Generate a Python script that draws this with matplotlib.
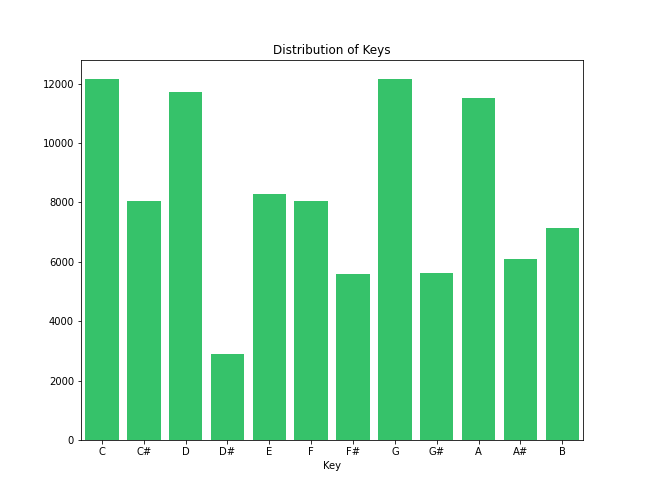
import matplotlib
matplotlib.use("Agg")
import matplotlib.pyplot as plt

keys = ["C", "C#", "D", "D#", "E", "F", "F#", "G", "G#", "A", "A#", "B"]
counts = [12170, 8056, 11730, 2900, 8290, 8056, 5596, 12170, 5630, 11528, 6100, 7146]

fig = plt.figure(figsize=(9, 7), dpi=72)
ax = fig.add_axes([0.125, 1 - 440/504, 0.775, (440-60)/504])
ax.bar(range(len(keys)), counts, width=0.8, color="#36c26a")
ax.set_xticks(range(len(keys)))
ax.set_xticklabels(keys)
ax.set_xlim(-0.5, len(keys) - 0.5)
ax.set_ylim(0, 12800)
ax.set_yticks(range(0, 12001, 2000))
ax.set_xlabel("Key")
ax.set_title("Distribution of Keys")
fig.savefig("out.png", dpi=72)
